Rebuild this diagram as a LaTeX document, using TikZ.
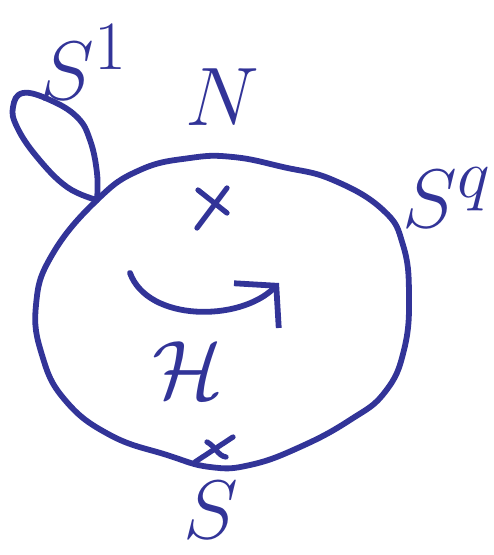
\documentclass[tikz,border=0pt]{standalone}
\usetikzlibrary{arrows.meta, positioning}
\definecolor{pencolor}{RGB}{50,52,152}

\begin{document}
\begin{tikzpicture}[
    x=0.02cm, y=-0.02cm,
    pen/.style={draw=pencolor, line width=3.3pt, line cap=round, line join=round},
    hand/.style={text=pencolor, inner sep=0pt, scale=1.9, font=\Huge},
    cross/.style={pen, line width=3pt}
]
    \useasboundingbox (0,0) rectangle (494,555);

    % Sphere
    \draw[pen] plot[smooth cycle, tension=0.75] coordinates {
        (97,200) (140,170) (190,158) (233,157) (283,167) (333,180)
        (383,210) (403,245) (409,295) (404,350) (385,392) (350,420)
        (300,447) (250,465) (210,467) (167,455) (110,435) (65,400)
        (42,355) (36,305) (52,255)};

    % Loop
    \draw[pen] plot[smooth, tension=0.7] coordinates {
        (97,200) (97,173) (90,140) (77,117) (50,100) (23,93)
        (13,107) (17,127) (37,157) (67,187) (97,200)};

    % Poles
    \draw[cross] (198,190) -- (227,213);
    \draw[cross] (227,188) -- (197,228);
    \draw[cross] (207,442) .. controls (215,446) and (218,456) .. (226,457);
    \draw[cross] (233,437) -- (195,462);

    % Rotation
    \draw[pen, -{Straight Barb[length=16pt, width=36pt, line width=3.3pt]}]
        (130,273) .. controls (148,322) and (240,322) .. (279,283);

    % Labels
    \node[hand] (circ) at (84,62) {$S^1$};
    \node[hand] (north) at (222,97) {$N$};
    \node[hand] (sph) at (447,198) {$S^q$};
    \node[hand] (south) at (211,510) {$S$};
    \node[hand] (space) at (188,370) {$\mathcal{H}$};

\end{tikzpicture}
\end{document}
